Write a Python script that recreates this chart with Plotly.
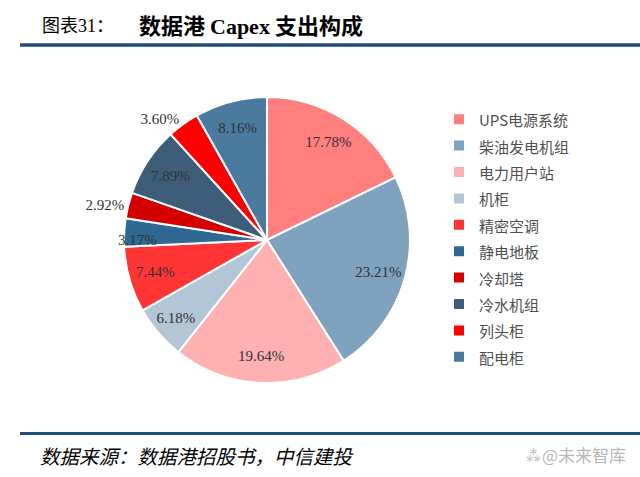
import plotly.graph_objects as go

categories = ["UPS电源系统", "柴油发电机组", "电力用户站", "机柜", "精密空调",
              "静电地板", "冷却塔", "冷水机组", "列头柜", "配电柜"]
shares = [17.78, 23.21, 19.64, 6.18, 7.44, 3.17, 2.92, 7.89, 3.60, 8.16]
value_labels = ["17.78%", "23.21%", "19.64%", "6.18%", "7.44%",
                "3.17%", "2.92%", "7.89%", "3.60%", "8.16%"]
colors = ["#FF7F7F", "#7FA3BE", "#FFB1B1", "#B3C6D6", "#FF3434",
          "#2F6892", "#D40000", "#3E5D78", "#FF0000", "#4A7A9D"]
positions = ["inside", "inside", "inside", "inside", "inside",
             "inside", "outside", "inside", "outside", "inside"]

W, H = 640, 477
cx, cy, r = 267, 240, 143
dom = dict(x=[(cx - r) / W, (cx + r) / W], y=[(H - cy - r) / H, (H - cy + r) / H])
legend_labels = ['<span style="font-size:15px">' + c + '</span>' for c in categories]

# Coloured slices (with legend)
fig = go.Figure(go.Pie(
    labels=legend_labels,
    values=shares,
    textinfo="none",
    sort=False,
    direction="clockwise",
    rotation=0,
    marker=dict(colors=colors, line=dict(color="white", width=2)),
    domain=dom,
    hoverinfo="label+percent",
))

# Transparent ring carrying the value labels (places them near the outer edge)
fig.add_trace(go.Pie(
    labels=legend_labels,
    values=shares,
    text=value_labels,
    textinfo="text",
    textposition=positions,
    insidetextorientation="horizontal",
    hole=0.62,
    sort=False,
    direction="clockwise",
    rotation=0,
    marker=dict(colors=["rgba(0,0,0,0)"] * len(shares), line=dict(width=0)),
    textfont=dict(family="Liberation Serif, Times New Roman, serif", size=15, color="#333333"),
    domain=dom,
    showlegend=False,
    hoverinfo="skip",
))

fig.update_layout(
    width=W, height=H,
    margin=dict(l=0, r=0, t=0, b=0),
    paper_bgcolor="white", plot_bgcolor="white",
    uniformtext=dict(minsize=15, mode="show"),
    showlegend=True,
    legend=dict(x=439 / W, y=(H - 101) / H, xanchor="left", yanchor="top",
                font=dict(family="Noto Sans CJK SC, sans-serif", size=18, color="#505050"),
                bgcolor="rgba(0,0,0,0)", itemclick=False, itemdoubleclick=False),
    shapes=[
        dict(type="line", xref="paper", yref="paper", x0=20 / W, x1=1, y0=(H - 45) / H, y1=(H - 45) / H,
             line=dict(color="#1F4E79", width=3.5)),
        dict(type="line", xref="paper", yref="paper", x0=20 / W, x1=1, y0=(H - 433.5) / H, y1=(H - 433.5) / H,
             line=dict(color="#1F4E79", width=3)),
    ],
    annotations=[
        dict(xref="paper", yref="paper", x=40 / W, y=(H - 24) / H, xanchor="left", yanchor="middle",
             showarrow=False,
             text='图表<span style="font-family:Liberation Serif">31</span>：',
             font=dict(family="Noto Sans CJK SC", size=18, color="#000000")),
        dict(xref="paper", yref="paper", x=137 / W, y=(H - 24) / H, xanchor="left", yanchor="middle",
             showarrow=False,
             text='<b>数据港 <span style="font-family:Liberation Serif">Capex</span> 支出构成</b>',
             font=dict(family="Noto Sans CJK SC", size=22, color="#000000")),
        dict(xref="paper", yref="paper", x=38 / W, y=(H - 455) / H, xanchor="left", yanchor="middle",
             showarrow=False,
             text='<i>数据来源：数据港招股书，中信建投</i>',
             font=dict(family="Noto Sans CJK SC", size=19.5, color="#000000")),
        dict(xref="paper", yref="paper", x=628 / W, y=(H - 454) / H, xanchor="right", yanchor="middle",
             showarrow=False,
             text='⁂@未来智库',
             font=dict(family="Noto Sans CJK SC", size=17, color="#B8B8B8")),
    ],
)

fig.write_html("out.html", config={"displayModeBar": False},
               post_script="document.body.style.margin='0';")
